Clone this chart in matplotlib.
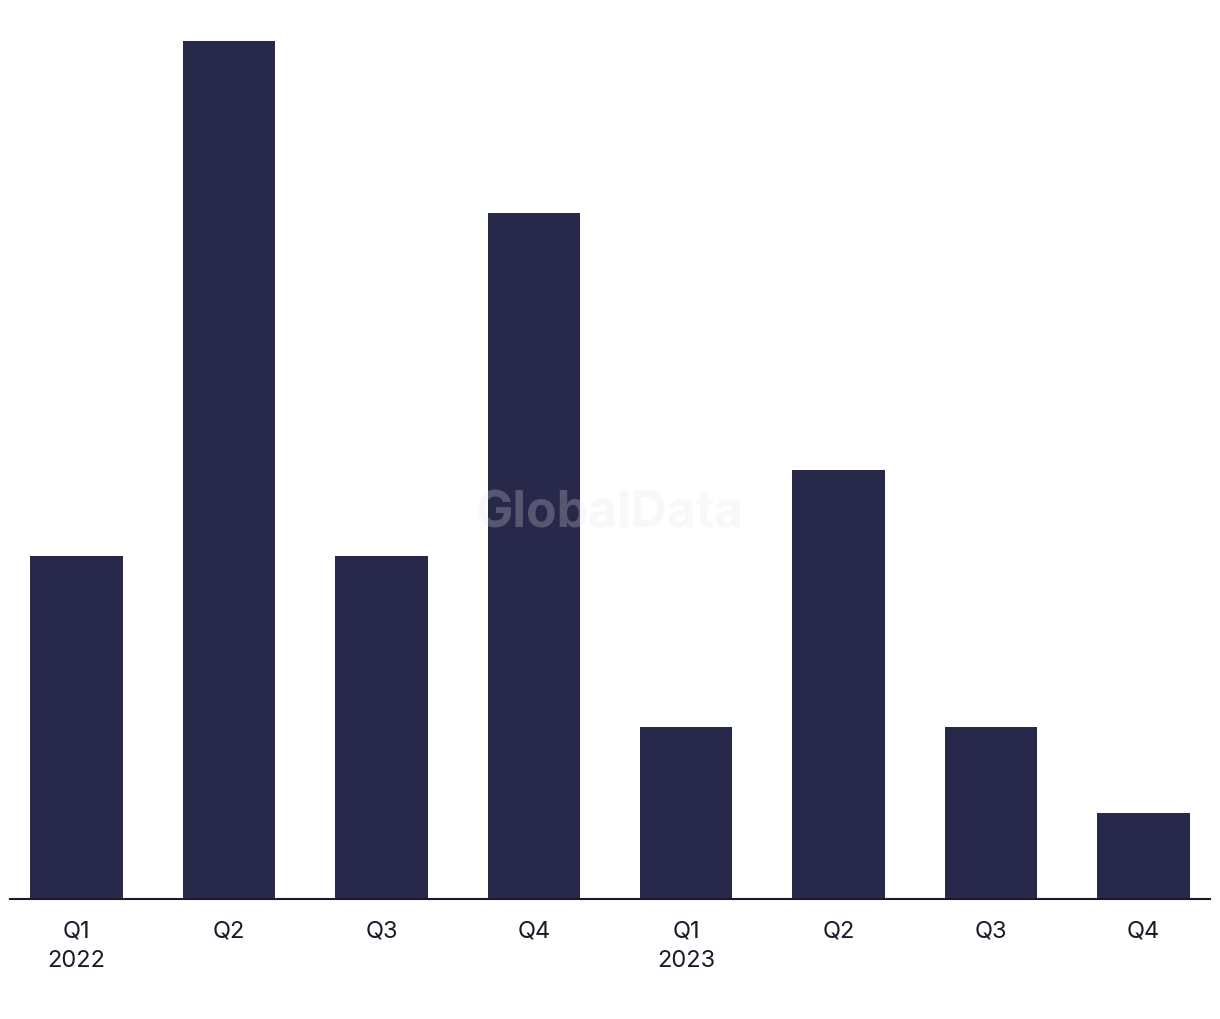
import matplotlib.pyplot as plt

quarters = ['Q1', 'Q2', 'Q3', 'Q4', 'Q1', 'Q2', 'Q3', 'Q4']
years = ['2022', '', '', '', '2023', '', '', '']
values = [4, 10, 4, 8, 2, 5, 2, 1]

plt.rcParams['font.family'] = ['Inter', 'DejaVu Sans']

fig = plt.figure(figsize=(12.2, 10.2), dpi=100)
ax = fig.add_axes([10 / 1220, 120 / 1020, 1200 / 1220, 858 / 1020])

x = range(len(values))
ax.bar(x, values, width=0.605, color='#28284a')

labels = [q + ('\n' + y if y else '') for q, y in zip(quarters, years)]
ax.set_xticks(list(x))
ax.set_xticklabels(labels, fontsize=17, color='#1a1a2a', linespacing=1.45, va='top')
ax.tick_params(axis='x', length=0, pad=15)
ax.set_yticks([])
ax.set_xlim(-0.437, 7.437)
ax.set_ylim(0, 10)
for s in ['top', 'right', 'left']:
    ax.spines[s].set_visible(False)
ax.spines['bottom'].set_linewidth(1.5)
ax.spines['bottom'].set_color('#1a1a2a')

fig.text(610 / 1220, 1 - 514 / 1020, 'GlobalData', fontsize=36, fontweight='bold',
         color='#e4e4ec', alpha=0.25, ha='center', va='center', zorder=10)

fig.savefig('out.png', dpi=100)
